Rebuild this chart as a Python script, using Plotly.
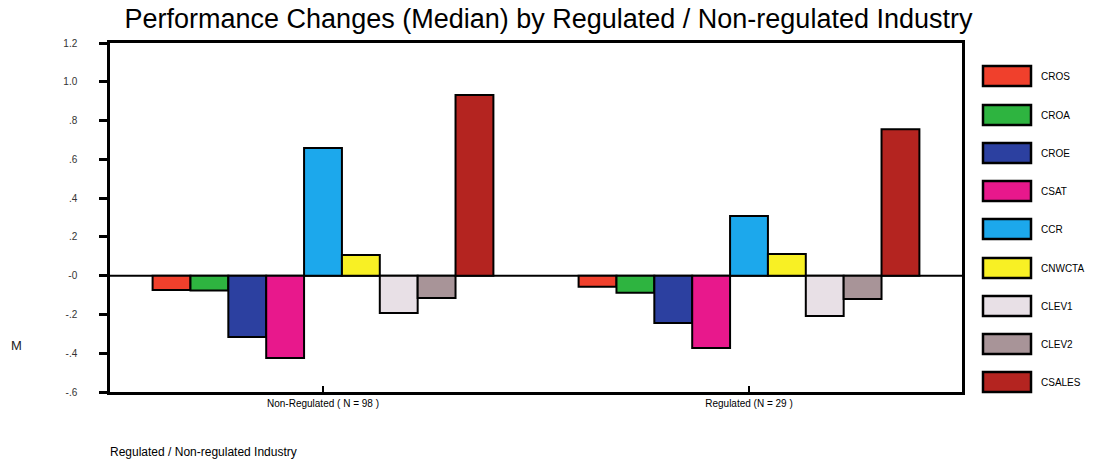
import plotly.graph_objects as go

categories = ["Non-Regulated ( N = 98 )", "Regulated (N = 29 )"]
series = ["CROS", "CROA", "CROE", "CSAT", "CCR", "CNWCTA", "CLEV1", "CLEV2", "CSALES"]
values = {
    "CROS":   [-0.074, -0.057],
    "CROA":   [-0.077, -0.088],
    "CROE":   [-0.316, -0.244],
    "CSAT":   [-0.424, -0.373],
    "CCR":    [0.659, 0.308],
    "CNWCTA": [0.107, 0.112],
    "CLEV1":  [-0.192, -0.208],
    "CLEV2":  [-0.115, -0.120],
    "CSALES": [0.932, 0.755],
}
colors = {
    "CROS": "#f0402c", "CROA": "#2eb440", "CROE": "#2c40a0", "CSAT": "#e8188c",
    "CCR": "#1ca8ec", "CNWCTA": "#f8f024", "CLEV1": "#e8e0e6", "CLEV2": "#a89498",
    "CSALES": "#b42420",
}
ytickvals = [1.2, 1.0, 0.8, 0.6, 0.4, 0.2, 0.0, -0.2, -0.4, -0.6]
yticktext = ["1.2", "1.0", ".8", ".6", ".4", ".2", "-0", "-.2", "-.4", "-.6"]

W, H = 1101, 465
ML, MR, MT, MB = 110, 139, 43, 73
PW, PH = W - ML - MR, H - MT - MB
FONT = "Liberation Sans Narrow, Arial Narrow, Liberation Sans, sans-serif"

fig = go.Figure()
for s in series:
    fig.add_trace(go.Bar(
        x=[0, 1], y=values[s], name=s,
        marker=dict(color=colors[s], line=dict(color="black", width=2)),
        showlegend=False,
    ))

shapes = []
annotations = []
# custom legend
leg_y_px = [76, 115, 153, 191, 229, 268, 306, 344, 382]
for s, ypx in zip(series, leg_y_px):
    x0 = (983 - ML) / PW
    x1 = (1031 - ML) / PW
    y0 = (MT + PH - (ypx + 10)) / PH
    y1 = (MT + PH - (ypx - 10)) / PH
    shapes.append(dict(type="rect", xref="paper", yref="paper", x0=x0, x1=x1, y0=y0, y1=y1,
                       fillcolor=colors[s], line=dict(color="black", width=2.5)))
    annotations.append(dict(xref="paper", yref="paper", x=(1039 - ML) / PW,
                            y=(MT + PH - ypx) / PH, text=s, showarrow=False,
                            xanchor="left", yanchor="middle",
                            font=dict(family=FONT, size=10, color="black")))

# zero line
shapes.append(dict(type="line", xref="paper", yref="y", x0=0, x1=1, y0=0, y1=0,
                   line=dict(color="black", width=2), layer="below"))

annotations.append(dict(xref="paper", yref="paper", x=(16 - ML) / PW, y=(MT + PH - 345) / PH,
                        text="M", showarrow=False, xanchor="center", yanchor="middle",
                        font=dict(family="Liberation Sans, Arial, sans-serif", size=13, color="#222")))
annotations.append(dict(xref="paper", yref="paper", x=(108 - ML) / PW, y=(MT + PH - 452) / PH,
                        text="Regulated / Non-regulated Industry", showarrow=False,
                        xanchor="left", yanchor="middle",
                        font=dict(family=FONT, size=12, color="black")))

fig.update_layout(
    width=W, height=H,
    margin=dict(l=ML, r=MR, t=MT, b=MB),
    paper_bgcolor="white", plot_bgcolor="white",
    barmode="group", bargap=0.2, bargroupgap=0,
    title=dict(text="Performance Changes (Median) by Regulated / Non-regulated Industry",
               x=(122 + 975) / 2 / W, xanchor="center", y=1 - 19 / H, yanchor="middle",
               font=dict(family=FONT, size=27, color="black")),
    xaxis=dict(range=[-0.5, 1.5], tickvals=[0, 1], ticktext=categories,
               showline=True, linecolor="black", linewidth=2.5, mirror=True,
               ticks="inside", ticklen=6, tickcolor="black", tickwidth=2,
               showgrid=False, zeroline=False,
               tickfont=dict(family=FONT, size=10, color="black")),
    yaxis=dict(range=[-0.6, 1.2], tickvals=ytickvals, ticktext=yticktext,
               showline=True, linecolor="black", linewidth=2.5, mirror=True,
               ticks="outside", ticklen=8, tickcolor="black", tickwidth=2.5,
               ticklabelstandoff=20,
               showgrid=False, zeroline=False,
               tickfont=dict(family=FONT, size=10, color="#333")),
    shapes=shapes, annotations=annotations,
)

fig.write_html("out.html")
